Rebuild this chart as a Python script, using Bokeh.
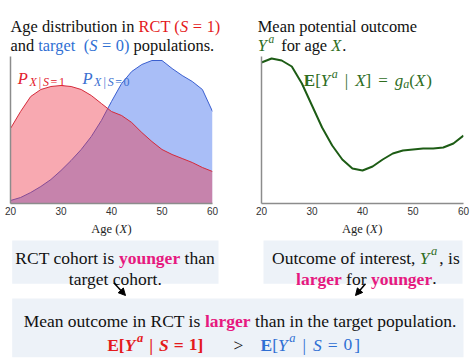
from bokeh.plotting import figure
from bokeh.layouts import column, row
from bokeh.models import Label, Arrow, NormalHead, Range1d
from bokeh.embed import file_html
from bokeh.resources import INLINE

# ---------------- data ----------------
ages = [20, 22, 24, 26, 28, 30, 32, 34, 36, 38, 40, 42, 44, 46, 48, 50, 52, 54, 56, 58, 60]
density_rct = [75, 92, 107, 114, 117, 118, 117, 114, 108, 100, 92, 88, 81, 71, 62, 54, 49, 45, 41, 36, 32]
density_target = [3, 6, 11, 17, 24, 33, 43, 54, 67, 83, 102, 120, 132, 139, 143, 143, 135, 128, 122, 114, 92]
mean_outcome = [141, 145, 143, 137, 120, 98, 76, 58, 44, 35, 33, 37, 44, 50, 53, 54, 55, 55, 56, 60, 68]
age_ticks = [20, 30, 40, 50, 60]

# ---------------- styling ----------------
SERIF = "Liberation Serif"
K = "#111111"
RED = "#e41a1c"
BLUE = "#2f6fd3"
GREEN = "#2f6e1f"
MAG = "#e6197f"
CURVE = "#1d5c15"
BOXC = "#edf2f8"
AXC = "#8c8c8c"

# Times-compatible advance widths (1/1000 em)
LOW = "abcdefghijklmnopqrstuvwxyz"
UP = "ABCDEFGHIJKLMNOPQRSTUVWXYZ"
def _tab(lw, uw, punct):
    d = dict(zip(LOW, lw)); d.update(zip(UP, uw)); d.update(punct)
    for c in "0123456789":
        d[c] = 500
    return d
W = {
    "r": _tab([444,500,444,500,444,333,500,500,278,278,500,278,778,500,500,500,500,333,389,278,500,500,722,500,500,444],
              [722,667,667,722,611,556,722,722,333,389,722,611,889,722,722,556,722,667,556,611,722,722,944,722,722,611],
              {" ":250,"(":333,")":333,",":250,".":250,"=":564,"|":200,"[":333,"]":333,">":564}),
    "b": _tab([500,556,444,556,444,333,500,556,278,333,556,278,833,556,500,556,556,444,389,333,556,500,722,500,500,444],
              [722,667,722,722,667,611,778,778,389,500,778,667,944,722,778,611,778,722,556,667,722,722,1000,722,722,667],
              {" ":250,"(":333,")":333,",":250,".":250,"=":570,"|":220,"[":333,"]":333,">":570}),
    "i": _tab([500,500,444,500,444,278,500,500,278,278,444,278,722,500,500,500,500,389,389,278,500,444,667,444,444,389],
              [611,611,667,722,611,611,722,722,333,444,667,556,833,667,722,611,722,611,500,556,722,611,833,611,556,556],
              {" ":250,"(":333,")":333,",":250,".":250,"=":675,"|":275,"[":389,"]":389}),
    "bi": _tab([500,500,444,500,444,333,500,556,278,278,500,278,778,556,500,500,500,389,389,278,556,444,667,500,444,389],
               [667,667,667,722,667,667,722,778,389,500,667,611,889,722,722,611,722,667,556,611,722,667,889,667,611,611],
               {" ":250,"(":333,")":333,",":250,".":250,"=":570,"|":220,"[":333,"]":333}),
}
STYLE = {"r": "normal", "b": "bold", "i": "italic", "bi": "bold italic"}

def tw(text, style, size):
    return sum(W[style].get(c, 500) for c in text) * size / 1000.0

def run_layout(runs, size):
    out, x = [], 0.0
    for r in runs:
        if isinstance(r, (int, float)):
            x += r
            continue
        text, color = r[0], r[1]
        style = r[2] if len(r) > 2 else "r"
        sz = r[3] if len(r) > 3 else size
        rise = r[4] if len(r) > 4 else 0
        sp = W[style][" "] * sz / 1000.0
        lead = len(text) - len(text.lstrip(" "))
        trail = len(text) - len(text.rstrip(" "))
        core = text.strip(" ")
        x += lead * sp
        if core:
            out.append((x, core, color, style, sz, rise))
            x += tw(core, style, sz)
        x += trail * sp
    return out, x

def place(p, conv, sx, sy, runs, size, align="left"):
    items, total = run_layout(runs, size)
    x0 = sx - total / 2.0 if align == "center" else sx
    for (dx, text, color, style, sz, rise) in items:
        kw = conv(x0 + dx, sy - rise)
        p.add_layout(Label(text=text, text_color=color, text_font=SERIF,
                           text_font_style=STYLE[style], text_font_size=f"{sz}px",
                           text_baseline="alphabetic", text_align="left", **kw))

def frame_conv(frame_left, frame_bottom):
    def conv(sx, sy):
        return dict(x=sx - frame_left, y=frame_bottom - sy, x_units="screen", y_units="screen")
    return conv

def text_fig(width, height, top):
    p = figure(width=width, height=height, x_range=Range1d(0, width), y_range=Range1d(height, 0),
               x_axis_type=None, y_axis_type=None, toolbar_location=None, output_backend="svg",
               title=None, min_border=0)
    p.outline_line_color = None
    p.xgrid.visible = False
    p.ygrid.visible = False
    p.background_fill_color = "white"
    p.border_fill_color = "white"
    conv = lambda sx, sy: dict(x=sx, y=sy - top)
    return p, conv

TOPT = 56     # bottom of the title strip / top of the plot frames
AXY = 203     # x-axis line
TOPB = 219    # top of the lower text strip
FH = AXY - TOPT

def make_top(width, bl, br):
    p = figure(width=width, height=TOPB - TOPT, x_range=Range1d(20, 60), y_range=Range1d(0, FH),
               toolbar_location=None, output_backend="svg", title=None,
               min_border_left=bl, min_border_right=br, min_border_top=0, min_border_bottom=TOPB - AXY)
    p.outline_line_color = None
    p.xgrid.grid_line_color = None
    p.ygrid.grid_line_color = None
    p.background_fill_color = "white"
    p.border_fill_color = "white"
    ax = p.xaxis[0]
    ax.ticker = age_ticks
    ax.major_tick_out = 0
    ax.major_tick_in = 0
    ax.minor_tick_out = 0
    ax.minor_tick_in = 0
    ax.axis_line_color = AXC
    ax.axis_line_width = 1.5
    ax.major_label_text_font = "Liberation Sans"
    ax.major_label_text_font_size = "10px"
    ax.major_label_text_color = "#333333"
    ax.major_label_standoff = 3
    ay = p.yaxis[0]
    ay.ticker = []
    ay.major_tick_out = 0
    ay.major_tick_in = 0
    ay.minor_tick_out = 0
    ay.minor_tick_in = 0
    ay.major_label_text_font_size = "0px"
    ay.major_label_standoff = 0
    ay.axis_line_color = AXC
    ay.axis_line_width = 1.5
    return p

TS = 16.4   # title size

# ---------------- titles ----------------
pt, ct = text_fig(474, TOPT, 0)
place(pt, ct, 10, 26, [("Age distribution in ", K), ("RCT (", RED), ("S", RED, "i"), 4.6, ("=", RED), 4.6, ("1)", RED)], TS)
place(pt, ct, 10, 45, [("and ", K), ("target", BLUE), 4, (" (", BLUE), ("S", BLUE, "i"), 4.6, ("=", BLUE), 4.6,
                       ("0)", BLUE), (" populations.", K)], TS)
place(pt, ct, 257.3, 26, [("Mean potential outcome", K)], TS)
place(pt, ct, 257.3, 45, [("Y", GREEN, "i"), 1.5, ("a", GREEN, "i", 11.5, 6.5), 7, ("for age ", K), ("X", GREEN, "i"), 1, (".", K)], TS)

# ---------------- left: age distributions ----------------
pl = make_top(240, 10, 28)
pl.varea(x=ages, y1=0, y2=density_target, fill_color="#4c78ee", fill_alpha=0.48)
pl.line(ages, density_target, line_color="#3b5fcf", line_width=1)
pl.varea(x=ages, y1=0, y2=density_rct, fill_color="#ee3344", fill_alpha=0.42)
pl.line(ages, density_rct, line_color="#d42a3a", line_width=1)
cl = frame_conv(10, AXY - TOPT)
sub = lambda t, c, st="r": (t, c, st, 12, -3.5)
for (px, col, digit) in [(17.3, "#e3202c", "1"), (82, "#3a6fd0", "0")]:
    place(pl, cl, px, 78.3 - TOPT, [("P", col, "i", 16.5), 1.5, sub("X", col, "i"), 2, sub("|", col), 2,
                                    sub("S", col, "i"), 1.5, sub("=", col), 1.5, sub(digit, col)], 16.5)

# ---------------- right: mean potential outcome ----------------
pr = make_top(234, 21, 11)
pr.line(ages, mean_outcome, line_color=CURVE, line_width=2)
cr = frame_conv(261, AXY - TOPT)
place(pr, cr, 303.3, 80 - TOPT, [("E", GREEN, "b"), ("[", GREEN), ("Y", GREEN, "i"), 1.5, ("a", GREEN, "i", 12, 7), 7,
                                 ("|", GREEN), 7, ("X", GREEN, "i"), ("]", GREEN), 7, ("=", GREEN), 7, ("g", GREEN, "i"),
                                 ("a", GREEN, "i", 12, -3.5), ("(", GREEN), ("X", GREEN, "i"), 1, (")", GREEN)], 17)

# ---------------- bottom: axis labels and text boxes ----------------
pb, cb = text_fig(474, 363 - TOPB, TOPB)
pb.quad(left=[11.7, 263, 11.7], right=[218, 462, 463], top=[240 - TOPB, 240 - TOPB, 298 - TOPB],
        bottom=[283.3 - TOPB, 283.3 - TOPB, 356.7 - TOPB], fill_color=BOXC, line_color=None)
for cx in (111, 361.7):
    place(pb, cb, cx, 228, [("Age (", "#222222"), ("X", "#222222", "i"), 0.5, (")", "#222222")], 12.5, align="center")
BS = 17.5
place(pb, cb, 114.5, 257.3, [("RCT cohort is ", K), ("younger", MAG, "b"), (" than", K)], BS, "center")
place(pb, cb, 115, 278, [("target cohort.", K)], BS, "center")
place(pb, cb, 365.4, 257.3, [("Outcome of interest, ", K), ("Y", GREEN, "i"), 1.5, ("a", GREEN, "i", 12.5, 7), 2, (", is", K)], BS, "center")
place(pb, cb, 365.8, 278, [("larger", MAG, "b"), (" for ", K), ("younger", MAG, "b"), (".", K)], BS, "center")
place(pb, cb, 239.7, 320.7, [("Mean outcome in RCT is ", K), ("larger", MAG, "b"), (" than in the target population.", K)], BS, "center")
place(pb, cb, 106.7, 344, [("E", RED, "b"), ("[", RED, "b"), ("Y", RED, "bi"), 1.5, ("a", RED, "bi", 12.5, 7), 6,
                           ("|", RED, "b"), 6, ("S", RED, "bi"), 5, ("=", RED, "b"), 5, ("1", RED, "b"), ("]", RED, "b")], BS)
place(pb, cb, 233, 344, [(">", K)], BS)
place(pb, cb, 260, 344, [("E", BLUE, "b"), ("[", BLUE), ("Y", BLUE, "i"), 1.5, ("a", BLUE, "i", 12.5, 7), 7,
                         ("|", BLUE), 7, ("S", BLUE, "i"), 6, ("=", BLUE), 6, ("0", BLUE), 2, ("]", BLUE)], BS)
for (x0, y0, x1, y1) in [(113.3, 282.3, 125, 295), (365, 283.3, 355, 295)]:
    pb.add_layout(Arrow(end=NormalHead(size=7, fill_color="black", line_color="black"),
                        x_start=x0, y_start=y0 - TOPB, x_end=x1, y_end=y1 - TOPB,
                        line_color="black", line_width=1.5))

layout = column(pt, row(pl, pr), pb)
open("out.html", "w").write(file_html(layout, INLINE))
